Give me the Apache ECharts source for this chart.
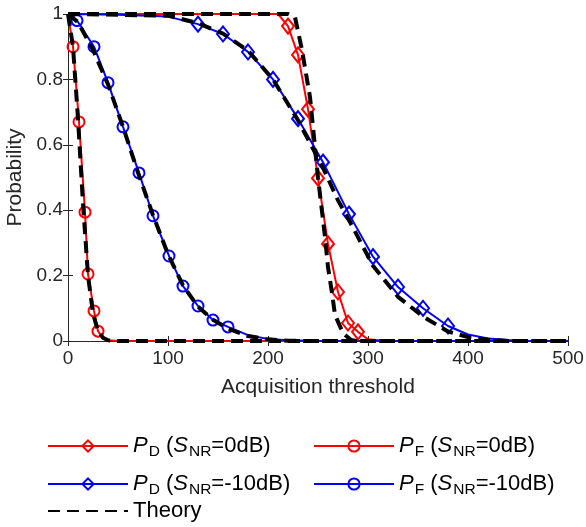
<!DOCTYPE html>
<html><head><meta charset="utf-8">
<script src="https://cdn.jsdelivr.net/npm/echarts@6/dist/echarts.min.js"></script>
<style>html,body{margin:0;padding:0;background:#fff}#c{width:586px;height:527px}</style>
</head><body><div id="c"></div>
<script>
// ---- data ----
const xTicks = [0, 100, 200, 300, 400, 500];
const yTicks = [0, 0.2, 0.4, 0.6, 0.8, 1];

// P_D, SNR = 0 dB (red diamonds)
const pd0Line = [[0,1],[100,1],[200,1],[210,1],[220,0.963],[230,0.875],[240,0.709],[250,0.498],[260,0.297],[270,0.15],[280,0.055],[290,0.028],[300,0.005],[320,0],[500,0]];
const pd0Marks = [220,230,240,250,260,270,280,290];
// P_F, SNR = 0 dB (red circles)
const pf0Line = [[0,1],[5,0.90],[11,0.67],[17,0.394],[20,0.205],[26,0.092],[30,0.03],[35,0.008],[40,0.002],[50,0],[500,0]];
const pf0Marks = [5,11,17,20,26,30];
// P_D, SNR = -10 dB (blue diamonds)
const pd10Line = [[0,1],[50,0.998],[100,0.992],[130,0.969],[155,0.939],[180,0.884],[205,0.80],[230,0.68],[255,0.547],[281,0.388],[305,0.258],[330,0.165],[355,0.10],[380,0.046],[400,0.02],[420,0.008],[440,0.003],[460,0],[500,0]];
const pd10Marks = [130,155,180,205,230,255,281,305,330,355,380];
// P_F, SNR = -10 dB (blue circles)
const pf10Line = [[0,1],[9,0.98],[26,0.90],[40,0.79],[55,0.655],[71,0.514],[85,0.383],[101,0.26],[115,0.168],[130,0.107],[145,0.064],[160,0.043],[180,0.018],[200,0.006],[220,0.002],[250,0],[500,0]];
const pf10Marks = [9,26,40,55,71,85,101,115,130,145,160];
// Theory curves
const thPf0 = [[0,1],[5,0.9],[10,0.68],[15,0.42],[20,0.2],[25,0.085],[30,0.03],[35,0.01],[40,0.002],[50,0],[500,0]];
const thPf10 = [[0,1],[10,0.975],[25,0.89],[40,0.785],[55,0.655],[70,0.515],[85,0.385],[100,0.265],[115,0.17],[130,0.105],[145,0.065],[160,0.038],[180,0.015],[200,0.005],[220,0.001],[240,0],[500,0]];
const thPd10 = [[0,1],[100,0.995],[130,0.972],[155,0.94],[180,0.888],[205,0.80],[230,0.675],[255,0.53],[270,0.43],[281,0.37],[305,0.23],[330,0.135],[355,0.075],[380,0.029],[400,0.012],[420,0.004],[440,0],[500,0]];
const thPd0 = [[0,1],[220,1],[227,0.99],[234,0.89],[242,0.746],[247,0.593],[250,0.5],[257,0.318],[260,0.226],[264,0.147],[267,0.08],[275,0.024],[283,0.003],[290,0],[500,0]];

const labels = {
  PD0: '{i|P}{s|D} ({i|S}{s|NR}=0dB)',
  PF0: '{i|P}{s|F} ({i|S}{s|NR}=0dB)',
  PD10: '{i|P}{s|D} ({i|S}{s|NR}=-10dB)',
  PF10: '{i|P}{s|F} ({i|S}{s|NR}=-10dB)',
  Theory: 'Theory'
};

const FONT = '"Liberation Sans", Arial, Helvetica, sans-serif';
const AX = '#262626';
const RED = '#ff0000', BLUE = '#0000ff';

function mk(line, marks) {
  return line.map(p => marks.includes(p[0]) ? {value: p} : {value: p, symbol: 'none'});
}
function dataSeries(name, line, marks, color, sym) {
  return {
    name, type: 'line', data: mk(line, marks),
    symbol: sym, symbolSize: sym === 'diamond' ? [12, 15] : 11,
    lineStyle: {color, width: 2},
    itemStyle: {color: 'rgba(255,255,255,0)', borderColor: color, borderWidth: 2},
    emphasis: {disabled: true}, animation: false, clip: false, z: 2
  };
}
function theory(line) {
  return {
    name: 'Theory', type: 'line', data: line, symbol: 'none',
    lineStyle: {color: '#000', width: 4, type: [12, 7]},
    itemStyle: {color: '#000'},
    emphasis: {disabled: true}, animation: false, z: 3
  };
}

const rich = {
  i: {fontStyle: 'italic', fontSize: 22, fontFamily: FONT, color: '#000'},
  s: {fontSize: 15.5, fontFamily: FONT, color: '#000', padding: [12, 0, 0, 1]}
};
function leg(name, left, top, extra) {
  return Object.assign({
    data: [name], left, top, padding: 0, itemWidth: 80, itemHeight: 14, itemGap: 0,
    formatter: n => labels[n], selectedMode: false,
    textStyle: {fontSize: 22, fontFamily: FONT, color: '#000', rich}
  }, extra || {});
}

const axisCommon = {
  min: 0, axisLine: {show: true, lineStyle: {color: AX, width: 1}},
  axisTick: {show: true, inside: true, length: 5, lineStyle: {color: AX}},
  splitLine: {show: false}
};

const chart = echarts.init(document.getElementById('c'), null, {renderer: 'canvas'});
chart.setOption({
  animation: false,
  backgroundColor: '#fff',
  grid: {left: 68, right: 18, top: 14, bottom: 186, containLabel: false, outerBoundsMode: 'none'},
  xAxis: [
    Object.assign({}, axisCommon, {type: 'value', max: 500, interval: 100, position: 'bottom',
      name: 'Acquisition threshold', nameLocation: 'middle', nameGap: 36,
      nameTextStyle: {fontSize: 21, fontFamily: FONT, color: AX},
      axisLabel: {fontSize: 19, fontFamily: FONT, color: AX, margin: 8}}),
    Object.assign({}, axisCommon, {type: 'value', max: 500, interval: 100, position: 'top',
      axisLabel: {show: false}})
  ],
  yAxis: [
    Object.assign({}, axisCommon, {type: 'value', max: 1, interval: 0.2, position: 'left',
      name: 'Probability', nameLocation: 'middle', nameGap: 41,
      nameTextStyle: {fontSize: 21, fontFamily: FONT, color: AX},
      axisLabel: {fontSize: 19, fontFamily: FONT, color: AX, margin: 5}}),
    Object.assign({}, axisCommon, {type: 'value', max: 1, interval: 0.2, position: 'right',
      axisLabel: {show: false}})
  ],
  legend: [
    leg('PD0', 47, 435),
    leg('PF0', 313, 435),
    leg('PD10', 47, 473),
    leg('PF10', 313, 473),
    leg('Theory', 47, 500, {itemStyle: {opacity: 0}})
  ],
  series: [
    dataSeries('PD0', pd0Line, pd0Marks, RED, 'diamond'),
    dataSeries('PF0', pf0Line, pf0Marks, RED, 'circle'),
    dataSeries('PD10', pd10Line, pd10Marks, BLUE, 'diamond'),
    dataSeries('PF10', pf10Line, pf10Marks, BLUE, 'circle'),
    theory(thPd0), theory(thPf0), theory(thPd10), theory(thPf10)
  ]
});
</script></body></html>
